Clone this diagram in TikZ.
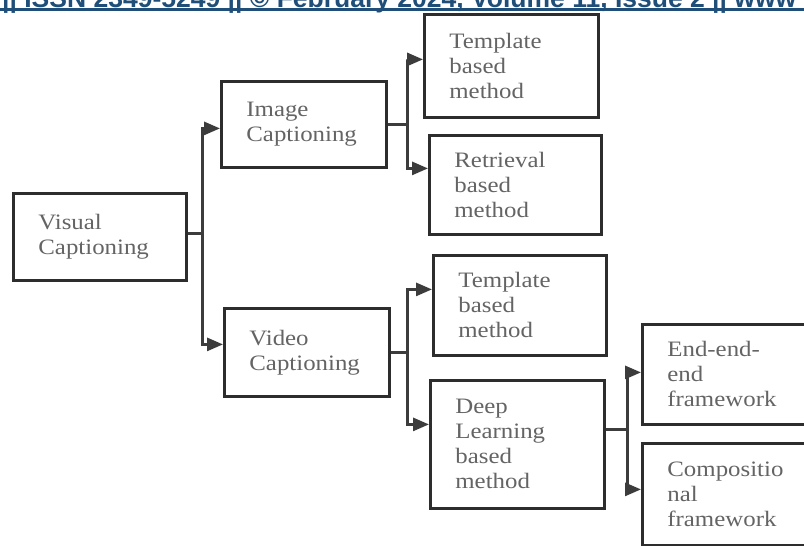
\documentclass[tikz,border=0pt]{standalone}
\usepackage{fontspec}
\setmainfont{Liberation Serif}
\newfontfamily\boxfont[FakeStretch=1.13]{Liberation Serif}
\newfontfamily\headfont{Liberation Sans}
\usetikzlibrary{arrows.meta}
\definecolor{hdrblue}{RGB}{31,78,121}
\definecolor{boxline}{RGB}{45,45,45}
\definecolor{connline}{RGB}{60,60,60}
\definecolor{txtgray}{RGB}{100,100,100}
\begin{document}
\begin{tikzpicture}[x=1pt,y=-1pt,
  box/.style={draw=boxline, line width=2.8pt, rectangle, anchor=north west, inner xsep=25pt, inner ysep=0pt, align=left, font=\boxfont\fontsize{22}{25}\selectfont, text=txtgray},
  conn/.style={draw=connline, line width=2.8pt},
  arr/.style={conn, -{Triangle[length=16pt,width=13pt]}}]
\useasboundingbox (0,0) rectangle (804,546);
\clip (0,0) rectangle (804,546);
\fill[white] (0,0) rectangle (804,546);
% header
\node[anchor=base west, font=\headfont\bfseries\fontsize{26.5}{30}\selectfont, text=hdrblue, inner sep=0pt] (hdr) at (2,7.5) {|| ISSN 2349-5249 || © February 2024, Volume 11, Issue 2 || www};
\draw[hdrblue, line width=2.5pt] (0,9.5) -- (804,9.5);
% boxes
\node[box, minimum width=173pt, minimum height=87pt, text width=123pt] (vis) at (12,192) {Visual\\Captioning};
\node[box, minimum width=165pt, minimum height=86pt, text width=115pt] (img) at (220,80) {Image\\Captioning};
\node[box, minimum width=174pt, minimum height=103pt, text width=124pt] (tem1) at (423,13) {Template\\based\\method};
\node[box, minimum width=172pt, minimum height=99pt, text width=122pt] (ret) at (428,134) {Retrieval\\based\\method};
\node[box, minimum width=165pt, minimum height=88pt, text width=115pt] (vid) at (223,307) {Video\\Captioning};
\node[box, minimum width=173pt, minimum height=100pt, text width=123pt] (tem2) at (432,254) {Template\\based\\method};
\node[box, minimum width=174pt, minimum height=128pt, text width=124pt] (deep) at (429,379) {Deep\\Learning\\based\\method};
\node[box, minimum width=180pt, minimum height=100pt, text width=130pt] (endf) at (641,323) {End-end-\\end\\framework};
\node[box, minimum width=180pt, minimum height=102pt, text width=130pt] (comp) at (641,442) {Compositio\\nal\\framework};
% connectors
\draw[conn] ([yshift=3.5pt]vis.east) -- ++(15,0) coordinate (j1);
\draw[arr] (j1) |- ([yshift=-4pt]img.west);
\draw[arr] (j1) |- ([yshift=8pt]vid.west);
\draw[conn] (img.east) -- ++(20,0) coordinate (j2);
\draw[arr] (j2) |- ([yshift=6.5pt]tem1.west);
\draw[arr] (j2) |- ([yshift=16.5pt]ret.west);
\draw[conn] (vid.east) -- ++(17,0) coordinate (j3);
\draw[arr] (j3) |- ([yshift=16pt]tem2.west);
\draw[arr] (j3) |- ([yshift=20pt]deep.west);
\draw[conn] ([yshift=15pt]deep.east) -- ++(22,0) coordinate (j4);
\draw[arr] (j4) |- ([yshift=2pt]endf.west);
\draw[arr] (j4) |- ([yshift=5pt]comp.west);
\end{tikzpicture}
\end{document}
